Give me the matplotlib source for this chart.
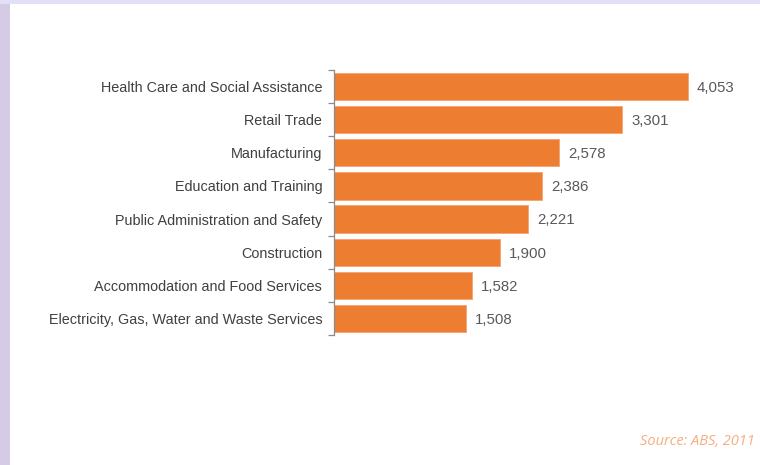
import numpy as np
import matplotlib.pyplot as plt
from matplotlib.patches import Rectangle

# Emplois par secteur d'activité (milliers), ABS 2011
secteurs = ["Health Care and Social Assistance",
            "Retail Trade",
            "Manufacturing",
            "Education and Training",
            "Public Administration and Safety",
            "Construction",
            "Accommodation and Food Services",
            "Electricity, Gas, Water and Waste Services"]
valeurs = [4053, 3301, 2578, 2386, 2221, 1900, 1582, 1508]
source = "Source: ABS, 2011"

W, H = 760, 465
fig = plt.figure(figsize=(W / 100, H / 100), dpi=100)
fig.patch.set_facecolor("white")

# Bandeaux décoratifs (gauche et haut)
fig.patches.append(Rectangle((0, 0), 10 / W, 1, transform=fig.transFigure,
                             facecolor="#D6CBE7", edgecolor="none", zorder=0))
fig.patches.append(Rectangle((0, 1 - 4 / H), 1, 4 / H, transform=fig.transFigure,
                             facecolor="#E2E0F6", edgecolor="none", zorder=0))

# Axe : spine gauche à x=334 px, de y=70 à y=335 px
gauche, droite = 334, 730
haut, bas = 70, 335
ax = fig.add_axes([gauche / W, 1 - bas / H, (droite - gauche) / W, (bas - haut) / H])
ax.set_facecolor("none")

y = np.arange(len(secteurs))
ax.barh(y, valeurs, height=0.82, color="#ED7D31", edgecolor="#F4A878",
        linewidth=0.7, zorder=2)

# 4053 se termine vers x=689 px
echelle = (689 - 335) / valeurs[0]
ax.set_xlim(0, (droite - gauche) / echelle)
ax.set_ylim(len(secteurs) - 0.5, -0.5)

for yi, v in zip(y, valeurs):
    ax.text(v + 9 / echelle, yi + 0.04, f"{v:,}", va="center", ha="left",
            fontsize=10.8, color="#595959", family="Liberation Sans")

ax.set_yticks(y)
ax.set_yticklabels(secteurs, fontsize=10.4, color="#404040", family="Liberation Sans")
ax.tick_params(axis="y", which="major", length=0, pad=8.5)
ax.set_yticks(np.arange(len(secteurs) + 1) - 0.5, minor=True)
ax.tick_params(axis="y", which="minor", length=4, width=0.9, color="#8C8C8C")
ax.set_xticks([])

for s in ["top", "right", "bottom"]:
    ax.spines[s].set_visible(False)
ax.spines["left"].set_color("#8C8C8C")
ax.spines["left"].set_linewidth(0.9)

fig.text(755 / W, 1 - 441 / H, source, ha="right", va="center",
         fontsize=10.5, style="italic", color="#F6AE7E", family="Open Sans")

fig.savefig("out.png", dpi=100)
